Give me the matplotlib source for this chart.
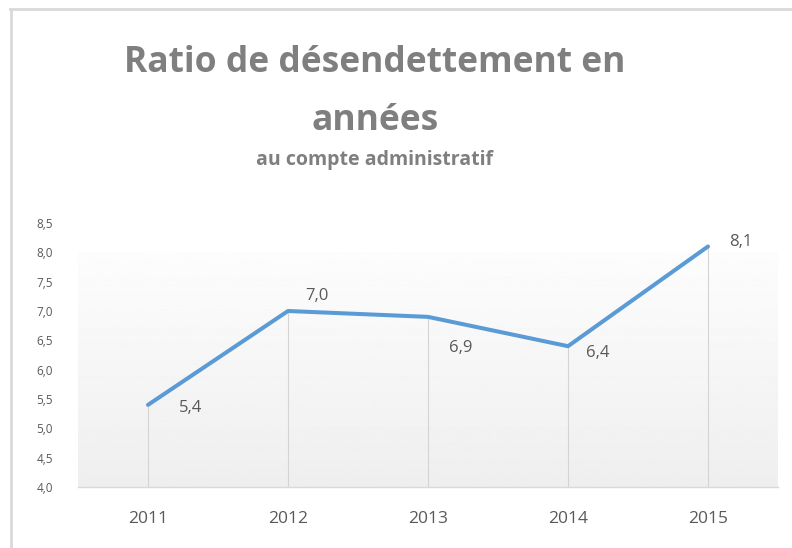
import numpy as np
import matplotlib
matplotlib.use("Agg")
import matplotlib.pyplot as plt
from matplotlib.lines import Line2D

# data
years = ["2011", "2012", "2013", "2014", "2015"]
ratio = [5.4, 7.0, 6.9, 6.4, 8.1]
ratio_labels = ["5,4", "7,0", "6,9", "6,4", "8,1"]
y_ticks = [4.0, 4.5, 5.0, 5.5, 6.0, 6.5, 7.0, 7.5, 8.0, 8.5]

# label offsets in pixels (dx, dy)
label_offsets = [(43, -3), (29, 15), (33, -31), (30, -7), (33, 4)]

plt.rcParams['font.family'] = ['Open Sans', 'DejaVu Sans']

W, H = 792, 548
fig = plt.figure(figsize=(W / 100, H / 100), dpi=100)

ax = fig.add_axes([78 / W, (H - 487) / H, 700 / W, (487 - 223) / H])
x = np.arange(len(years))
ax.set_xlim(-0.5, len(years) - 0.5)
ax.set_ylim(4.0, 8.5)

# gradient background
grad = np.linspace(0.99, 0.935, 256).reshape(-1, 1)
ax.imshow(grad, cmap='gray', vmin=0, vmax=1, aspect='auto',
          extent=[-0.5, len(years) - 0.5, 4.0, 8.0], zorder=0, origin='upper')

# drop lines
ax.vlines(x, 4.0, ratio, color='#d4d4d4', lw=0.8, zorder=1)

ax.plot(x, ratio, color='#5b9bd5', lw=2.9, solid_capstyle='round',
        solid_joinstyle='round', zorder=3)

for xi, yi, lab, (dx, dy) in zip(x, ratio, ratio_labels, label_offsets):
    ax.annotate(lab, (xi, yi), xytext=(dx, dy), textcoords='offset pixels',
                ha='center', va='center', fontsize=12, color='#595959')

for s in ['top', 'right', 'left']:
    ax.spines[s].set_visible(False)
ax.spines['bottom'].set_color('#d9d9d9')
ax.spines['bottom'].set_linewidth(1.0)

ax.set_xticks(x)
ax.set_xticklabels(years, fontsize=12.5, color='#595959')
ax.set_yticks(y_ticks)
ax.set_yticklabels([f"{v:.1f}".replace('.', ',') for v in y_ticks],
                   fontsize=8.5, color='#595959')
ax.tick_params(axis='x', length=0, pad=17)
ax.tick_params(axis='y', length=0, pad=18)

# titles
fig.text(375 / W, 1 - 63 / H, "Ratio de désendettement en", ha='center',
         va='center', fontsize=25.5, fontweight='bold', color='#7f7f7f')
fig.text(375 / W, 1 - 121 / H, "années", ha='center', va='center',
         fontsize=25.5, fontweight='bold', color='#7f7f7f')
fig.text(375 / W, 1 - 160 / H, "au compte administratif", ha='center',
         va='center', fontsize=14, fontweight='bold', color='#7f7f7f')

# chart border
fig.add_artist(Line2D([10 / W, 1], [1 - 9 / H, 1 - 9 / H], color='#d9d9d9',
                      lw=2, transform=fig.transFigure))
fig.add_artist(Line2D([11 / W, 11 / W], [0, 1 - 9 / H], color='#d9d9d9',
                      lw=2, transform=fig.transFigure))

fig.savefig("out.png", dpi=100)
